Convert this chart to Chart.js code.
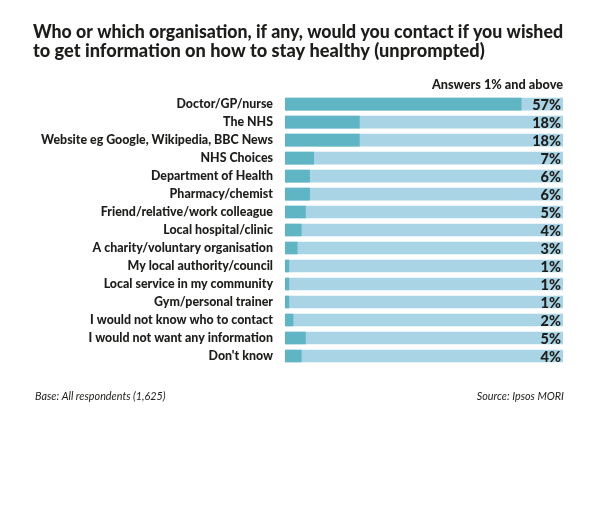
<!DOCTYPE html>
<html>
<head>
<meta charset="utf-8">
<script src="https://cdn.jsdelivr.net/npm/chart.js@4/dist/chart.umd.min.js"></script>
<style>
  body { margin: 0; background: #fff; }
  #wrap { width: 600px; height: 529px; }
</style>
</head>
<body>
<div id="wrap"><canvas id="healthChart"></canvas></div>
<script>
// Datos del gráfico
const categories = [
    "Doctor/GP/nurse",
    "The NHS",
    "Website eg Google, Wikipedia, BBC News",
    "NHS Choices",
    "Department of Health",
    "Pharmacy/chemist",
    "Friend/relative/work colleague",
    "Local hospital/clinic",
    "A charity/voluntary organisation",
    "My local authority/council",
    "Local service in my community",
    "Gym/personal trainer",
    "I would not know who to contact",
    "I would not want any information",
    "Don't know"
];
const percentages = [57, 18, 18, 7, 6, 6, 5, 4, 3, 1, 1, 1, 2, 5, 4];
const trackMax = 67;  // fondo azul claro hasta el final del eje
const track = categories.map(() => trackMax);

const titleLines = [
    "Who or which organisation, if any, would you contact if you wished",
    "to get information on how to stay healthy (unprompted)"
];
const subtitleText = "Answers 1% and above";
const baseNote = "Base: All respondents (1,625)";
const sourceNote = "Source: Ipsos MORI";

const fontFamily = "Lato, 'DejaVu Sans', sans-serif";
const textColor = "#1d1d1b";

// Etiquetas de porcentaje y notas al pie
const labelsPlugin = {
    id: "labelsPlugin",
    afterDatasetsDraw(chart) {
        const ctx = chart.ctx;
        const y = chart.scales.y;
        const right = chart.chartArea.right - 2;
        ctx.save();
        ctx.fillStyle = textColor;
        ctx.font = "900 14.5px " + fontFamily;
        ctx.textAlign = "right";
        ctx.textBaseline = "middle";
        percentages.forEach((v, i) => {
            ctx.fillText(v + "%", right, y.getPixelForValue(i) + 1);
        });
        ctx.font = "italic 10.8px " + fontFamily;
        ctx.textAlign = "left";
        ctx.fillText(baseNote, 35, 397);
        ctx.textAlign = "right";
        ctx.fillText(sourceNote, chart.chartArea.right + 1, 397);
        ctx.restore();
    }
};

const ctx = document.getElementById("healthChart").getContext("2d");

const healthChart = new Chart(ctx, {
    type: "bar",
    data: {
        labels: categories,
        datasets: [
            {
                label: "Percent",
                data: percentages,
                backgroundColor: "#5fb5c4",
                barPercentage: 0.7,
                categoryPercentage: 1,
            },
            {
                label: "Track",
                data: track,
                backgroundColor: "#a9d4e6",
                barPercentage: 0.7,
                categoryPercentage: 1,
            },
        ],
    },
    options: {
        indexAxis: "y",
        responsive: true,
        maintainAspectRatio: false,
        animation: false,
        grouped: false,
        layout: { padding: { left: 33, right: 37, top: 0, bottom: 164 } },
        plugins: {
            legend: { display: false },
            tooltip: { enabled: false },
            title: {
                display: true,
                text: titleLines,
                align: "start",
                color: textColor,
                font: { family: fontFamily, size: 18.2, weight: "900", lineHeight: 1.03 },
                padding: { top: 23, bottom: 17 },
            },
            subtitle: {
                display: true,
                text: subtitleText,
                align: "end",
                color: textColor,
                font: { family: fontFamily, size: 12.7, weight: "900", lineHeight: 1.2 },
                padding: { top: 0, bottom: 2.4 },
            },
        },
        scales: {
            x: { display: false, min: 0, max: trackMax },
            y: {
                grid: { display: false, drawTicks: false },
                border: { display: false },
                ticks: {
                    color: textColor,
                    padding: 12,
                    font: { family: fontFamily, size: 12.4, weight: "900" },
                },
                afterFit: (scale) => { scale.width = 252; },
            },
        },
    },
    plugins: [labelsPlugin],
});
</script>
</body>
</html>
